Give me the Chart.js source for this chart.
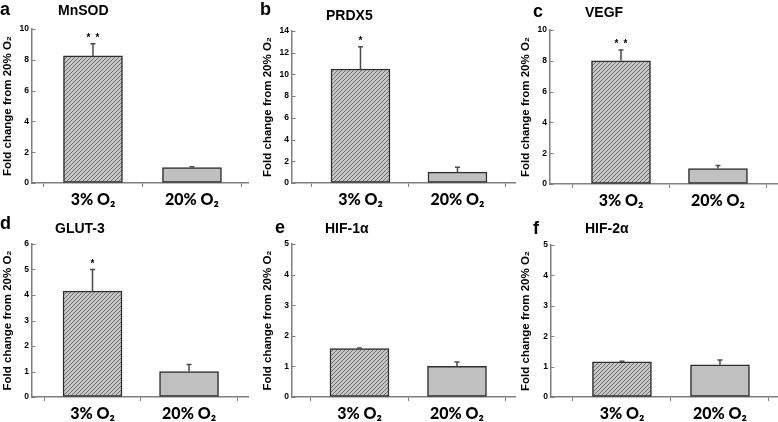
<!DOCTYPE html>
<html>
<head>
<meta charset="utf-8">
<script src="https://cdn.jsdelivr.net/npm/chart.js@4.4.0/dist/chart.umd.min.js"></script>
<style>
  html, body { margin: 0; padding: 0; background: #fff; }
  #wrap { position: relative; width: 778px; height: 422px; overflow: hidden; background: #fff; }
  canvas { position: absolute; }
  .lbl { position: absolute; font-family: "Liberation Sans", Arial, sans-serif; font-weight: bold; color: #000; white-space: nowrap; }
  .letter { font-size: 18px; line-height: 18px; }
  .gene { font-size: 14px; line-height: 14px; }
</style>
</head>
<body>
<div id="wrap"></div>
<script>
// ---------------- data ----------------
const categories = ['3% O\u2082', '20% O\u2082'];
const panelLetters = ['a', 'b', 'c', 'd', 'e', 'f'];
const geneNames = ['MnSOD', 'PRDX5', 'VEGF', 'GLUT-3', 'HIF-1\u03b1', 'HIF-2\u03b1'];
const hypoxiaMeans  = [8.25, 10.5, 8.0, 4.15, 1.58, 1.16];
const hypoxiaErrors = [0.80, 2.05, 0.70, 0.85, 0.02, 0.02];
const normoxiaMeans  = [1.0, 1.0, 1.0, 1.0, 1.0, 1.06];
const normoxiaErrors = [0.05, 0.45, 0.20, 0.27, 0.14, 0.16];
const starCounts = [2, 1, 2, 1, 0, 0];
const yMaxes = [10, 14, 10, 6, 5, 5];
const yStepSizes = [2, 2, 2, 1, 1, 1];
const yAxisTitle = 'Fold change from 20% O\u2082';

// ---------------- layout (positions only) ----------------
const CW = 260, CH = 211;
const layouts = [
  { left: 0,   top: 0,   aL: 32, aR: 248, aT: 29, aB: 183, xMin: -0.616, xMax: 1.566, lx: 0,   ly: 0,   tx: 58,  ty: 3 },
  { left: 260, top: 0,   aL: 32, aR: 255, aT: 31, aB: 183, xMin: -0.706, xMax: 1.593, lx: 260, ly: 0,   tx: 326, ty: 8 },
  { left: 518, top: 0,   aL: 32, aR: 260, aT: 30, aB: 184, xMin: -0.732, xMax: 1.619, lx: 533, ly: 2,   tx: 585, ty: 5 },
  { left: 0,   top: 211, aL: 32, aR: 248, aT: 33, aB: 186, xMin: -0.627, xMax: 1.611, lx: 0,   ly: 214, tx: 55,  ty: 221 },
  { left: 260, top: 211, aL: 32, aR: 255, aT: 33, aB: 186, xMin: -0.692, xMax: 1.595, lx: 275, ly: 218, tx: 325, ty: 221 },
  { left: 518, top: 211, aL: 33, aR: 260, aT: 34, aB: 186, xMin: -0.724, xMax: 1.592, lx: 533, ly: 219, tx: 585, ty: 221 }
];

const AXIS = '#7f7f7f';
const EDGE = '#2e2e2e';

function hatchPattern() {
  const c = document.createElement('canvas');
  c.width = 4; c.height = 4;
  const g = c.getContext('2d');
  g.fillStyle = '#c6c6c6';
  g.fillRect(0, 0, 4, 4);
  g.strokeStyle = '#707070';
  g.lineWidth = 1;
  g.beginPath();
  g.moveTo(-1, 5); g.lineTo(5, -1);
  g.moveTo(-1, 1); g.lineTo(1, -1);
  g.moveTo(3, 5); g.lineTo(5, 3);
  g.stroke();
  return g.createPattern(c, 'repeat');
}

const annotPlugin = {
  id: 'annot',
  afterDatasetsDraw(chart, args, opts) {
    const i = opts.index;
    const { ctx, scales: { x, y } } = chart;
    ctx.save();
    // inward tick marks on the y axis
    ctx.strokeStyle = AXIS;
    ctx.lineWidth = 1;
    y.ticks.forEach(t => {
      const py = Math.round(y.getPixelForValue(t.value)) + 0.5;
      ctx.beginPath();
      ctx.moveTo(y.right, py);
      ctx.lineTo(y.right + 3.5, py);
      ctx.stroke();
    });
    // error bars (upper only)
    const means = [hypoxiaMeans[i], normoxiaMeans[i]];
    const errs = [hypoxiaErrors[i], normoxiaErrors[i]];
    ctx.strokeStyle = '#4a4a4a';
    ctx.lineWidth = 1.5;
    means.forEach((m, j) => {
      const px = x.getPixelForValue(j);
      const y0 = y.getPixelForValue(m);
      const y1 = y.getPixelForValue(m + errs[j]);
      ctx.beginPath();
      ctx.moveTo(px, y0);
      ctx.lineTo(px, y1);
      ctx.moveTo(px - 2.5, y1);
      ctx.lineTo(px + 2.5, y1);
      ctx.stroke();
    });
    // significance stars
    const n = starCounts[i];
    if (n) {
      const px = x.getPixelForValue(0);
      const yt = y.getPixelForValue(hypoxiaMeans[i] + hypoxiaErrors[i]);
      ctx.fillStyle = '#000';
      ctx.font = 'bold 10px "Liberation Sans", Arial, sans-serif';
      ctx.textAlign = 'center';
      ctx.textBaseline = 'alphabetic';
      for (let k = 0; k < n; k++) {
        const dx = (k - (n - 1) / 2) * 9;
        ctx.fillText('*', px + dx, yt - 3);
      }
    }
    ctx.restore();
  }
};

const wrap = document.getElementById('wrap');
const pattern = hatchPattern();

layouts.forEach((L, i) => {
  const cv = document.createElement('canvas');
  cv.width = CW; cv.height = CH;
  cv.style.left = L.left + 'px';
  cv.style.top = L.top + 'px';
  cv.style.width = CW + 'px';
  cv.style.height = CH + 'px';
  wrap.appendChild(cv);

  const letter = document.createElement('div');
  letter.className = 'lbl letter';
  letter.textContent = panelLetters[i];
  letter.style.left = L.lx + 'px';
  letter.style.top = L.ly + 'px';
  wrap.appendChild(letter);

  const gene = document.createElement('div');
  gene.className = 'lbl gene';
  gene.textContent = geneNames[i];
  gene.style.left = L.tx + 'px';
  gene.style.top = L.ty + 'px';
  wrap.appendChild(gene);

  new Chart(cv, {
    type: 'bar',
    data: {
      datasets: [{
        data: [
          { x: 0, y: hypoxiaMeans[i] },
          { x: 1, y: normoxiaMeans[i] }
        ],
        backgroundColor: [pattern, '#c0c0c0'],
        borderColor: EDGE,
        borderWidth: 1.5,
        borderSkipped: false,
        barThickness: 59
      }]
    },
    options: {
      responsive: false,
      animation: false,
      devicePixelRatio: 1,
      layout: { padding: { top: L.aT, left: 0, right: CW - L.aR, bottom: 0 } },
      plugins: {
        legend: { display: false },
        tooltip: { enabled: false },
        annot: { index: i }
      },
      scales: {
        x: {
          type: 'linear',
          min: L.xMin,
          max: L.xMax,
          offset: false,
          afterBuildTicks: s => { s.ticks = categories.map((_, j) => ({ value: j })); },
          afterFit: s => { s.height = CH - L.aB; },
          ticks: {
            callback: v => categories[v],
            autoSkip: false,
            maxRotation: 0,
            padding: 3,
            color: '#000',
            font: { family: 'Lato, "Open Sans", "Noto Sans", sans-serif', weight: 900, size: 16 }
          },
          grid: { drawOnChartArea: false, drawTicks: true, tickLength: 4, color: AXIS, lineWidth: 1 },
          border: { display: true, color: AXIS, width: 1.5 }
        },
        y: {
          min: 0,
          max: yMaxes[i],
          afterFit: s => { s.width = L.aL; },
          ticks: {
            stepSize: yStepSizes[i],
            padding: 3,
            color: '#000',
            font: { family: '"Liberation Sans", Arial, sans-serif', weight: 'bold', size: 8.5 }
          },
          grid: { drawOnChartArea: false, drawTicks: false },
          border: { display: true, color: AXIS, width: 1.5 },
          title: {
            display: true,
            text: yAxisTitle,
            color: '#000',
            padding: { top: 1, bottom: 0 },
            font: { family: '"Liberation Sans", Arial, sans-serif', weight: 'bold', size: 11.5 }
          }
        }
      }
    },
    plugins: [annotPlugin]
  });
});
</script>
</body>
</html>
